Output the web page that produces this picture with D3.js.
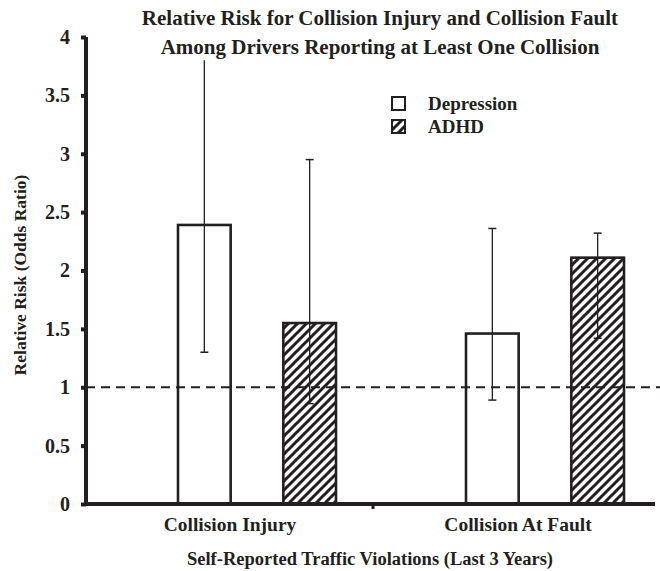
<!DOCTYPE html>
<html><head><meta charset="utf-8">
<script src="https://cdn.jsdelivr.net/npm/d3@7"></script>
<style>body{margin:0;background:#fff}svg{display:block}text{font-family:"Liberation Serif","Times New Roman",serif;font-weight:bold;fill:#231f20}</style>
</head><body><svg id="c" width="660" height="571"></svg>
<script>
const categories = ["Collision Injury", "Collision At Fault"];
const seriesNames = ["Depression", "ADHD"];
const depression = [2.39, 1.46];
const depressionLow = [1.30, 0.89];
const depressionHigh = [3.80, 2.36];
const adhd = [1.55, 2.11];
const adhdLow = [0.86, 1.42];
const adhdHigh = [2.95, 2.32];
const yTicks = [0, 0.5, 1, 1.5, 2, 2.5, 3, 3.5, 4];
const yTickLabels = ["0", "0.5", "1", "1.5", "2", "2.5", "3", "3.5", "4"];
const refValue = 1;

const svg = d3.select("#c");
const ink = "#231f20";
const defs = svg.append("defs");
const pat = defs.append("pattern").attr("id","hatch").attr("patternUnits","userSpaceOnUse")
  .attr("width",9).attr("height",9);
pat.append("rect").attr("width",9).attr("height",9).attr("fill","#fff");
pat.append("path").attr("d","M-2,11 L11,-2 M-4,4 L4,-4 M5,13 L13,5").attr("stroke",ink).attr("stroke-width",3);
const f = defs.append("filter").attr("id","blur").attr("x","-5%").attr("y","-100%").attr("width","110%").attr("height","300%");
f.append("feGaussianBlur").attr("stdDeviation",0.8);

const x0 = 86, x1 = 662, yTop = 37, yBot = 504;
const y = d3.scaleLinear().domain([0,4]).range([yBot, yTop]);
const x = d3.scaleBand().domain(categories).range([x0, x1]);
const xi = d3.scaleBand().domain(seriesNames).range([92, 250]).paddingInner(0.5).paddingOuter(0);

const rows = categories.map((c,i)=>({c, vals:[
  {s:"Depression", v:depression[i], lo:depressionLow[i], hi:depressionHigh[i]},
  {s:"ADHD", v:adhd[i], lo:adhdLow[i], hi:adhdHigh[i]}]}));

// bars
const g = svg.append("g");
rows.forEach(r=>{
  r.vals.forEach(d=>{
    const bx = x(r.c)+xi(d.s);
    g.append("rect").attr("x",bx).attr("y",y(d.v)).attr("width",xi.bandwidth()).attr("height",y(0)-y(d.v))
      .attr("fill", d.s==="ADHD" ? "url(#hatch)" : "#fff").attr("stroke",ink).attr("stroke-width",2.6);
  });
});
// reference line
svg.append("line").attr("x1",x0).attr("x2",660).attr("y1",y(refValue)).attr("y2",y(refValue))
  .attr("stroke","#888").attr("stroke-width",3).attr("stroke-dasharray","9,6").attr("filter","url(#blur)").attr("opacity",0.6);
svg.append("line").attr("x1",x0).attr("x2",660).attr("y1",y(refValue)).attr("y2",y(refValue))
  .attr("stroke",ink).attr("stroke-width",2).attr("stroke-dasharray","9,6");
// error bars
rows.forEach(r=>{
  r.vals.forEach(d=>{
    const cx = x(r.c)+xi(d.s)+xi.bandwidth()/2;
    g.append("line").attr("x1",cx).attr("x2",cx).attr("y1",y(d.lo)).attr("y2",y(d.hi)).attr("stroke",ink).attr("stroke-width",1.3);
    [d.lo,d.hi].forEach((v,k)=>{
      if (k===1 && v>3.5) return;
      g.append("line").attr("x1",cx-4).attr("x2",cx+4).attr("y1",y(v)).attr("y2",y(v)).attr("stroke",ink).attr("stroke-width",1.5);
    });
  });
});

// y axis
const ya = svg.append("g").attr("transform",`translate(${x0},0)`)
  .call(d3.axisLeft(y).tickValues(yTicks).tickFormat((d,i)=>yTickLabels[i]).tickSize(5).tickPadding(11));
ya.select(".domain").attr("stroke",ink).attr("stroke-width",4).attr("d",`M0,${yTop}V${yBot}`);
ya.selectAll(".tick line").attr("stroke",ink).attr("stroke-width",4);
ya.selectAll(".tick text").style("font-size","20px").attr("fill",ink);

// x axis
const xa = svg.append("g").attr("transform",`translate(0,${yBot})`)
  .call(d3.axisBottom(x).tickSize(0).tickPadding(13));
xa.select(".domain").attr("stroke",ink).attr("stroke-width",4).attr("d",`M${x0-2},0H655`);
xa.selectAll(".tick text").style("font-size","19.5px").attr("fill",ink);
xa.append("line").attr("x1",x(categories[1])-1).attr("x2",x(categories[1])-1).attr("y1",0).attr("y2",5).attr("stroke",ink).attr("stroke-width",3);

// titles
svg.append("text").attr("x",380).attr("y",25).attr("text-anchor","middle").style("font-size","21px").text("Relative Risk for Collision Injury and Collision Fault");
svg.append("text").attr("x",380).attr("y",54).attr("text-anchor","middle").style("font-size","21px").text("Among Drivers Reporting at Least One Collision");
svg.append("text").attr("x",370).attr("y",565).attr("text-anchor","middle").style("font-size","18.5px").text("Self-Reported Traffic Violations (Last 3 Years)");
svg.append("text").attr("transform","translate(26,275) rotate(-90)").attr("text-anchor","middle").style("font-size","17.5px").text("Relative Risk (Odds Ratio)");

// legend
const leg = svg.append("g");
seriesNames.forEach((s,i)=>{
  const ly = 97 + i*23;
  leg.append("rect").attr("x",392).attr("y",ly).attr("width",13).attr("height",13)
    .attr("fill", s==="ADHD" ? "url(#hatch)" : "#fff").attr("stroke",ink).attr("stroke-width",2);
  leg.append("text").attr("x",428).attr("y",ly+13).style("font-size","19px").text(s);
});
</script></body></html>
